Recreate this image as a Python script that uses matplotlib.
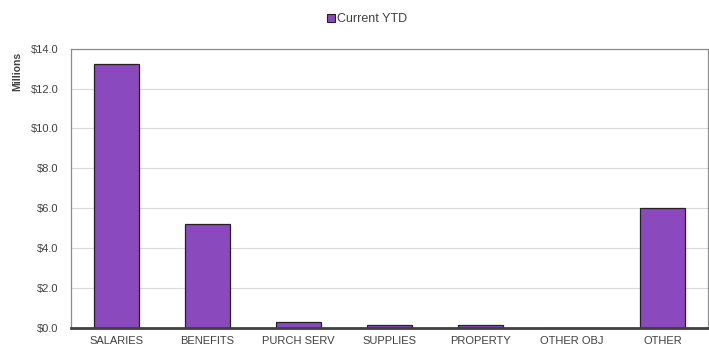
import numpy as np
import matplotlib.pyplot as plt
from matplotlib.ticker import FuncFormatter
from matplotlib.patches import Patch

categories = ['SALARIES', 'BENEFITS', 'PURCH SERV', 'SUPPLIES',
              'PROPERTY', 'OTHER OBJ', 'OTHER']
current_ytd = [13.23, 5.2, 0.3, 0.15, 0.15, 0.0, 6.02]  # millions
y_ticks = [0, 2, 4, 6, 8, 10, 12, 14]

plt.rcParams['font.family'] = ['Liberation Sans', 'DejaVu Sans']

bar_color = '#8a4abd'
text_color = '#404040'

fig = plt.figure(figsize=(7.09, 3.49), dpi=100)
ax = fig.add_axes([0.1001, 0.0602, 0.8985, 0.8003])

x = np.arange(len(categories))
ax.bar(x, current_ytd, width=0.5, color=bar_color,
       edgecolor='#222222', linewidth=0.9, zorder=3)

ax.set_xlim(-0.5, len(categories) - 0.5)
ax.set_ylim(0, 14)
ax.set_yticks(y_ticks)
ax.yaxis.set_major_formatter(FuncFormatter(lambda v, p: f'${v:.1f}'))
ax.set_xticks(x)
ax.set_xticklabels(categories)
ax.tick_params(axis='both', length=0, labelsize=8, colors=text_color,
               pad=6)
ax.tick_params(axis='y', pad=9)
ax.grid(axis='y', color='#d9d9d9', linewidth=0.8, zorder=0)

for side in ['top', 'right', 'left']:
    ax.spines[side].set_color('#8c8c8c')
    ax.spines[side].set_linewidth(0.9)
ax.spines['bottom'].set_color('#404040')
ax.spines['bottom'].set_linewidth(2)
ax.spines['bottom'].set_zorder(4)

ax.set_ylabel('Millions', fontsize=7.5, fontweight='bold', color=text_color)
ax.yaxis.set_label_coords(-0.077, 0.917)

handle = Patch(facecolor=bar_color, edgecolor='#222222', linewidth=0.8)
fig.legend([handle], ['Current YTD'], loc='center', bbox_to_anchor=(0.518, 0.945),
           frameon=False, fontsize=9, handlelength=0.6, handleheight=0.6,
           handletextpad=0.2, labelcolor=text_color)

fig.savefig('out.png', dpi=100)
